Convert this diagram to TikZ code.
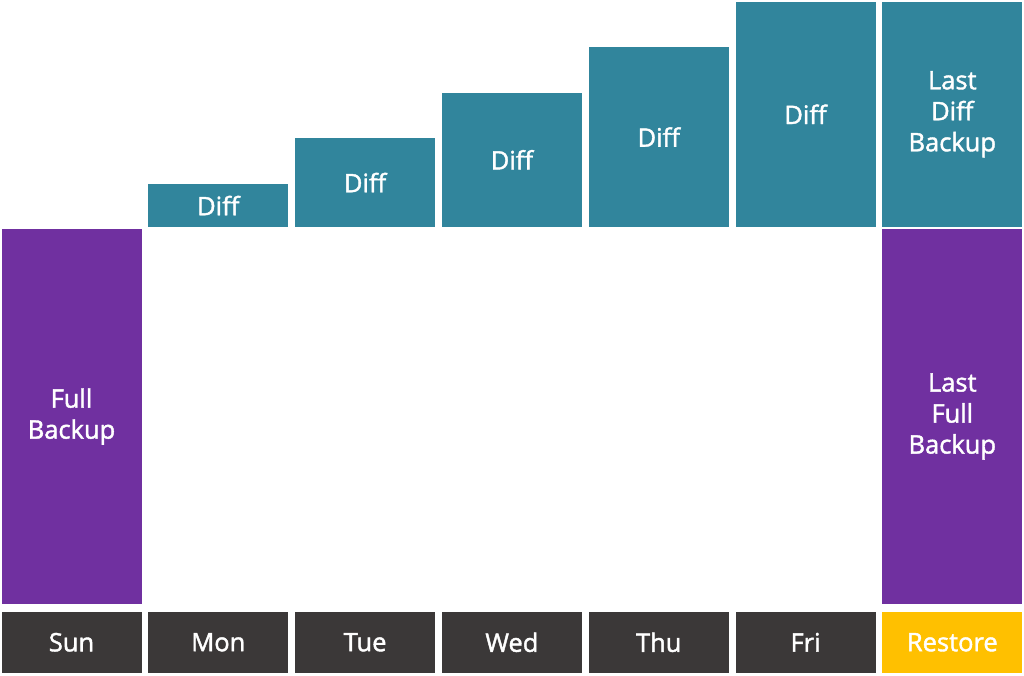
\documentclass[tikz,border=0pt]{standalone}
\usepackage{fontspec}
\setmainfont{Open Sans}[FakeBold=1.6]
\usetikzlibrary{positioning}
\definecolor{diffteal}{HTML}{31859C}
\definecolor{fullpurple}{HTML}{7030A0}
\definecolor{daygray}{HTML}{3B3838}
\definecolor{restoregold}{HTML}{FFC000}
\tikzstyle{box}=[
	rectangle,
	inner sep=0pt,
	outer sep=0pt,
	text=white,
	align=center,
	minimum width=140pt,
	font=\fontsize{25.5}{31}\selectfont
]
\tikzstyle{day}=[
	box,
	fill=daygray,
	minimum height=60.5pt,
	node distance=6.8pt
]
\tikzstyle{full}=[
	box,
	fill=fullpurple,
	minimum height=375pt,
	node distance=8pt
]
\tikzstyle{diff}=[
	box,
	fill=diffteal,
	anchor=south
]

\begin{document}
\begin{tikzpicture}[x=1pt,y=-1pt]
\useasboundingbox (0,0) rectangle (1024,675);
% days
\node [day, anchor=north west] (Sun) at (1.5,612) {Sun};
\node [day] (Mon) [right=of Sun] {Mon};
\node [day] (Tue) [right=of Mon] {Tue};
\node [day] (Wed) [right=of Tue] {Wed};
\node [day] (Thu) [right=of Wed] {Thu};
\node [day] (Fri) [right=of Thu] {Fri};
\node [day, fill=restoregold] (Restore) [right=of Fri] {Restore};
% full backups
\node [full] (SunFull) [above=of Sun] {Full\\Backup};
\node [full] (LastFull) [above=of Restore] {Last\\Full\\Backup};
% differentials
\node [diff, minimum height=43pt] (MonDiff) at ([yshift=2pt]Mon |- SunFull.north) {Diff};
\node [diff, minimum height=89pt] (TueDiff) at ([yshift=2pt]Tue |- SunFull.north) {Diff};
\node [diff, minimum height=134.5pt] (WedDiff) at ([yshift=2pt]Wed |- SunFull.north) {Diff};
\node [diff, minimum height=180pt] (ThuDiff) at ([yshift=2pt]Thu |- SunFull.north) {Diff};
\node [diff, minimum height=225.5pt] (FriDiff) at ([yshift=2pt]Fri |- SunFull.north) {Diff};
\node [diff, minimum height=225.5pt] (LastDiff) [above=2pt of LastFull] {Last\\Diff\\Backup};
\end{tikzpicture}
\end{document}
